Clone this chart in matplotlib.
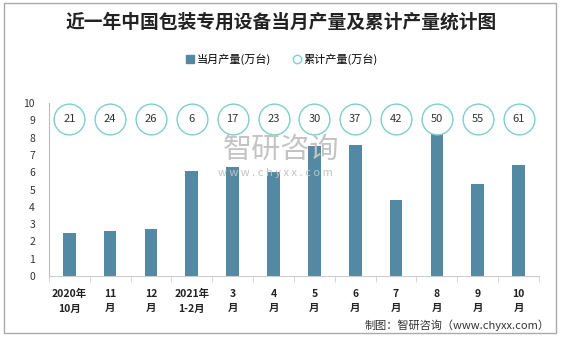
import matplotlib.pyplot as plt
from matplotlib.patches import Rectangle
from matplotlib.lines import Line2D

plt.rcParams['font.family'] = ['Noto Sans CJK SC', 'DejaVu Sans']

# Data
months = ["2020年\n10月", "11\n月", "12\n月", "2021年\n1-2月", "3\n月", "4\n月",
          "5\n月", "6\n月", "7\n月", "8\n月", "9\n月", "10\n月"]
monthly = [2.5, 2.6, 2.7, 6.1, 6.3, 6.0, 7.5, 7.6, 4.4, 8.3, 5.3, 6.4]
cumulative = [21, 24, 26, 6, 17, 23, 30, 37, 42, 50, 55, 61]

bar_color = "#5489a3"
circle_color = "#80cfc8"

fig = plt.figure(figsize=(5.62, 3.37), dpi=100, facecolor="white")
ax = fig.add_axes([0.087, 0.181, 0.872, 0.513])

x = list(range(len(months)))
ax.bar(x, monthly, width=0.31, color=bar_color, zorder=2)

# cumulative values shown as circles near the top
circle_y = [9.1] * len(x)
ax.scatter(x, circle_y, s=490, facecolors="white", edgecolors=circle_color,
           linewidths=1.0, zorder=3)
for xi, v in zip(x, cumulative):
    ax.text(xi, 9.1, str(v), ha="center", va="center", fontsize=8,
            color="#333333", zorder=4)

ax.set_ylim(0, 10)
ax.set_xlim(-0.5, len(x) - 0.5)
ax.set_yticks(range(0, 11))
ax.tick_params(axis="y", length=0, labelsize=7.5, colors="#333333", pad=10)
ax.set_xticks(x)
ax.set_xticklabels(months, fontsize=7.5, fontweight="bold", color="#222222",
                   linespacing=1.6)
ax.set_xticks([i - 0.5 for i in range(len(x) + 1)], minor=True)
ax.tick_params(axis="x", which="major", length=0, pad=9)
ax.tick_params(axis="x", which="minor", length=4, color="#cccccc")

for s in ["top", "right"]:
    ax.spines[s].set_visible(False)
ax.spines["left"].set_color("#bbbbbb")
ax.spines["bottom"].set_color("#cccccc")

# watermark
fig.text(0.5, 0.555, "智研咨询", fontsize=21, color="#c4c4c4", ha="center",
         va="center", zorder=0)
fig.text(0.49, 0.488, "w w w . c h y x x . c o m", fontsize=8, color="#c4c4c4",
         ha="center", va="center", zorder=0)

# title and legend
fig.text(0.5, 0.935, "近一年中国包装专用设备当月产量及累计产量统计图", fontsize=13.5,
         fontweight="bold", ha="center", va="center", color="#222222")
handles = [
    Line2D([], [], marker="s", linestyle="", markersize=6, color=bar_color),
    Line2D([], [], marker="o", linestyle="", markersize=6, markerfacecolor="white",
           markeredgecolor=circle_color),
]
fig.legend(handles, ["当月产量(万台)", "累计产量(万台)"], loc="center",
           bbox_to_anchor=(0.5, 0.825), ncol=2, frameon=False, fontsize=8,
           handletextpad=0.1, columnspacing=1.8, handlelength=1)

fig.text(0.977, 0.035, "制图：智研咨询（www.chyxx.com）", fontsize=8,
         ha="right", va="center", color="#333333")

# outer frame
fig.patches.append(Rectangle((0.007, 0.012), 0.982, 0.979, transform=fig.transFigure,
                             fill=False, edgecolor="#aaaaaa", linewidth=1))

fig.savefig("out.png", dpi=100)
